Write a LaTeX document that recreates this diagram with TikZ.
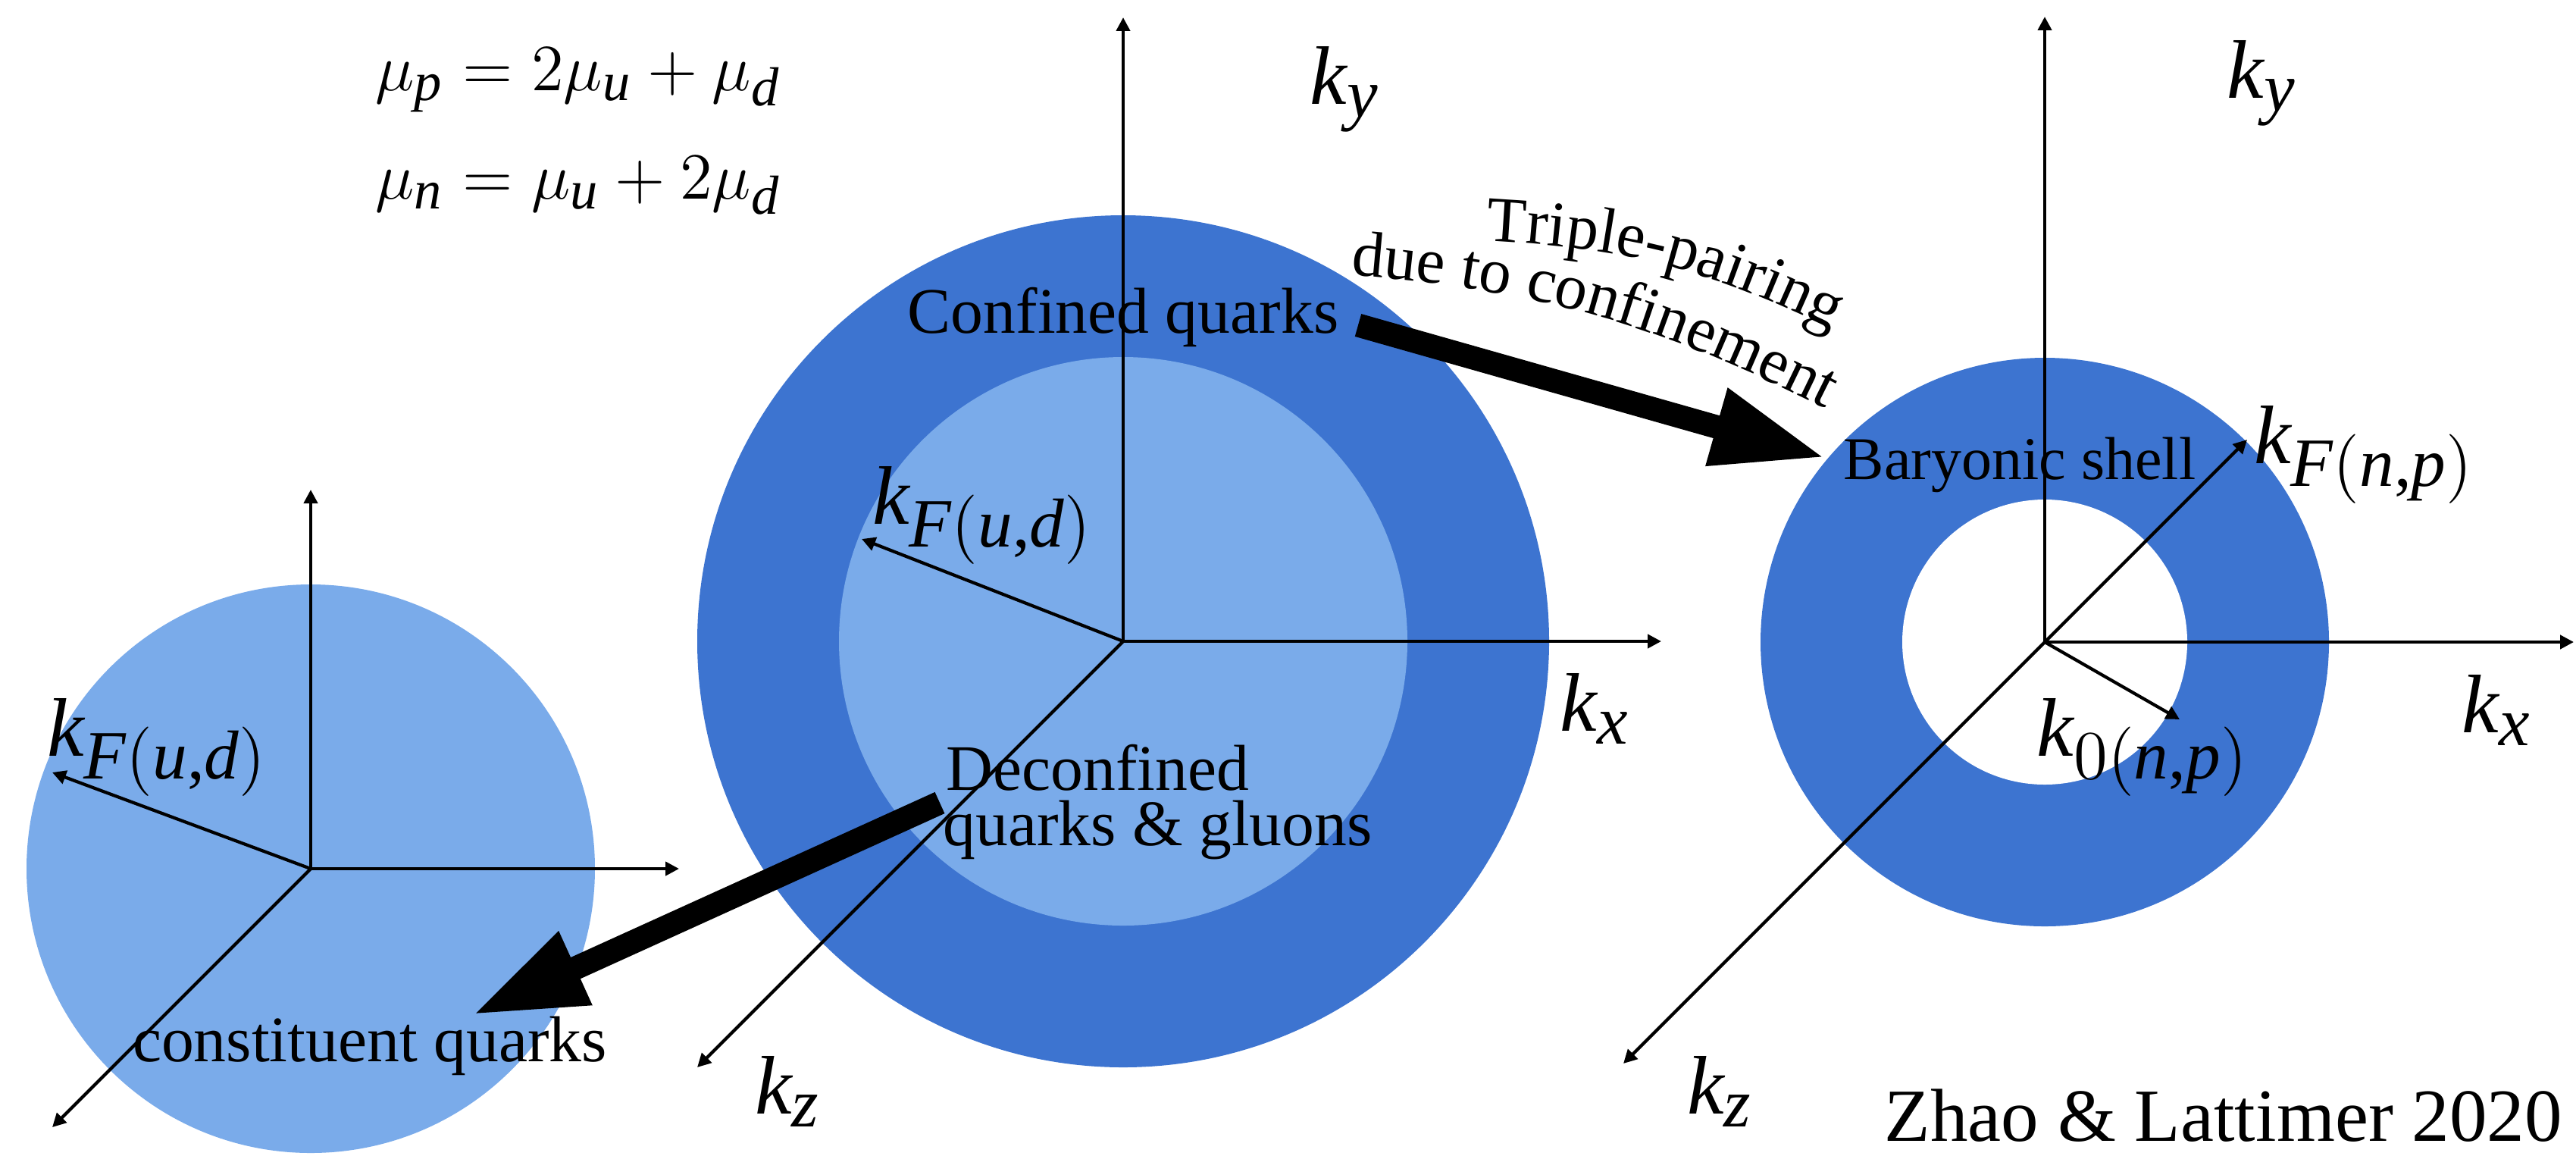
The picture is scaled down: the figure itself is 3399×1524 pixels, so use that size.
\RequirePackage{fix-cm}
\documentclass[tikz,border=0pt]{standalone}
\usepackage{fontspec}
\setmainfont{Liberation Serif}
\usepackage[italic]{mathastext}
\usepackage{xcolor}
\usepackage{tikz}
\usetikzlibrary{positioning,arrows.meta,calc,decorations.text}

\definecolor{fermidark}{RGB}{61,116,208}
\definecolor{fermilight}{RGB}{122,171,234}
\newcommand{\tripfont}{\fontsize{12.1}{12}\selectfont}

\begin{document}
\begin{tikzpicture}[x=0.005cm, y=-0.005cm,
    axis/.style={line width=0.6pt, -{Triangle[length=0.09cm, width=0.09cm]}},
    bigarrow/.style={line width=0.155cm, -{Triangle[length=0.75cm, width=0.49cm]}},
    klabel/.style={font=\fontsize{15.6}{16}\selectfont, inner sep=0pt},
    region/.style={font=\fontsize{12.2}{13}\selectfont, inner sep=0pt},
    eqn/.style={font=\fontsize{12.4}{14}\selectfont, inner sep=0pt}
]
\useasboundingbox (0,0) rectangle (3399,1524);

% origins of the three Fermi seas
\coordinate (L) at (410,1146);
\coordinate (M) at (1482,846);
\coordinate (R) at (2698,847);

\fill[fermilight] (L) circle[radius=375];
\fill[fermidark]  (M) circle[radius=562];
\fill[fermilight] (M) circle[radius=375];
\fill[fermidark]  (R) circle[radius=375];
\fill[white]      (R) circle[radius=188];

% axis ends
\coordinate (Ly) at (410,646);
\coordinate (Lx) at (896,1146);
\coordinate (Lz) at (69,1487);
\coordinate (LkF) at (69,1019);
\coordinate (My) at (1482,23);
\coordinate (Mx) at (2192,846);
\coordinate (Mz) at (920,1408);
\coordinate (MkF) at (1137,711);
\coordinate (Ry) at (2698,22);
\coordinate (Rx) at (3396,847);
\coordinate (Rz) at (2142,1403);
\coordinate (RkF) at (2965,580);
\coordinate (Rk0) at (2876,949);

\foreach \o/\e in {L/Ly, L/Lx, L/Lz, L/LkF, M/My, M/Mx, M/Mz, M/MkF,
                   R/Ry, R/Rx, R/Rz, R/RkF, R/Rk0}
  \draw[axis] (\o) -- (\e);

\node[klabel] (LkFl) at (208,986)  {$k_{F(u,d)}$};
\node[klabel] (Mky)  at (1775,118) {$k_y$};
\node[klabel] (Mkx)  at (2105,935) {$k_x$};
\node[klabel] (Mkz)  at (1040,1440) {$k_z$};
\node[klabel] (MkFl) at (1297,680) {$k_{F(u,d)}$};
\node[klabel] (Rky)  at (2985,110) {$k_y$};
\node[klabel] (Rkx)  at (3295,937) {$k_x$};
\node[klabel] (Rkz)  at (2270,1440) {$k_z$};
\node[klabel] (RkFl) at (3120,600) {$k_{F(n,p)}$};
\node[klabel] (Rk0l) at (2828,986) {$k_{0(n,p)}$};

\node[eqn, anchor=base west] (mup) at (494,119) {$\mu_p = 2\mu_u + \mu_d$};
\node[eqn, anchor=base west] (mun) at (494,262) {$\mu_n = \mu_u + 2\mu_d$};

% block arrows
\coordinate (conftail) at (1792,429);
\coordinate (confhead) at (2409,604);
\coordinate (decontail) at (1240,1059);
\coordinate (deconhead) at (623,1339);
\draw[bigarrow] (conftail) -- (confhead);
\draw[bigarrow] (decontail) -- (deconhead);

\node[region, anchor=base] (confined) at (1482,439) {Confined quarks};
\node[region, anchor=base west] (decon1) at (1247,1042) {Deconfined};
\node[region, anchor=base west] (decon2) at (1243,1115) {quarks \& gluons};
\node[region, anchor=base] (constit) at (488,1400) {constituent quarks};
\node[region, anchor=base, font=\fontsize{11.4}{12}\selectfont] (baryon) at (2665,632) {Baryonic shell};

\path[decorate, decoration={text along path, text align=center,
      text={|\tripfont|Triple-pairing}}] (1972,318) to[bend left=11] (2408,430);
\path[decorate, decoration={text along path, text align=center,
      text={|\tripfont|due to confinement}}] (1776,362) to[bend left=11] (2414,542);

\node[anchor=base east, inner sep=0pt, font=\fontsize{14.1}{15}\selectfont] (credit) at (3382,1505) {Zhao \& Lattimer 2020};
\end{tikzpicture}
\end{document}
